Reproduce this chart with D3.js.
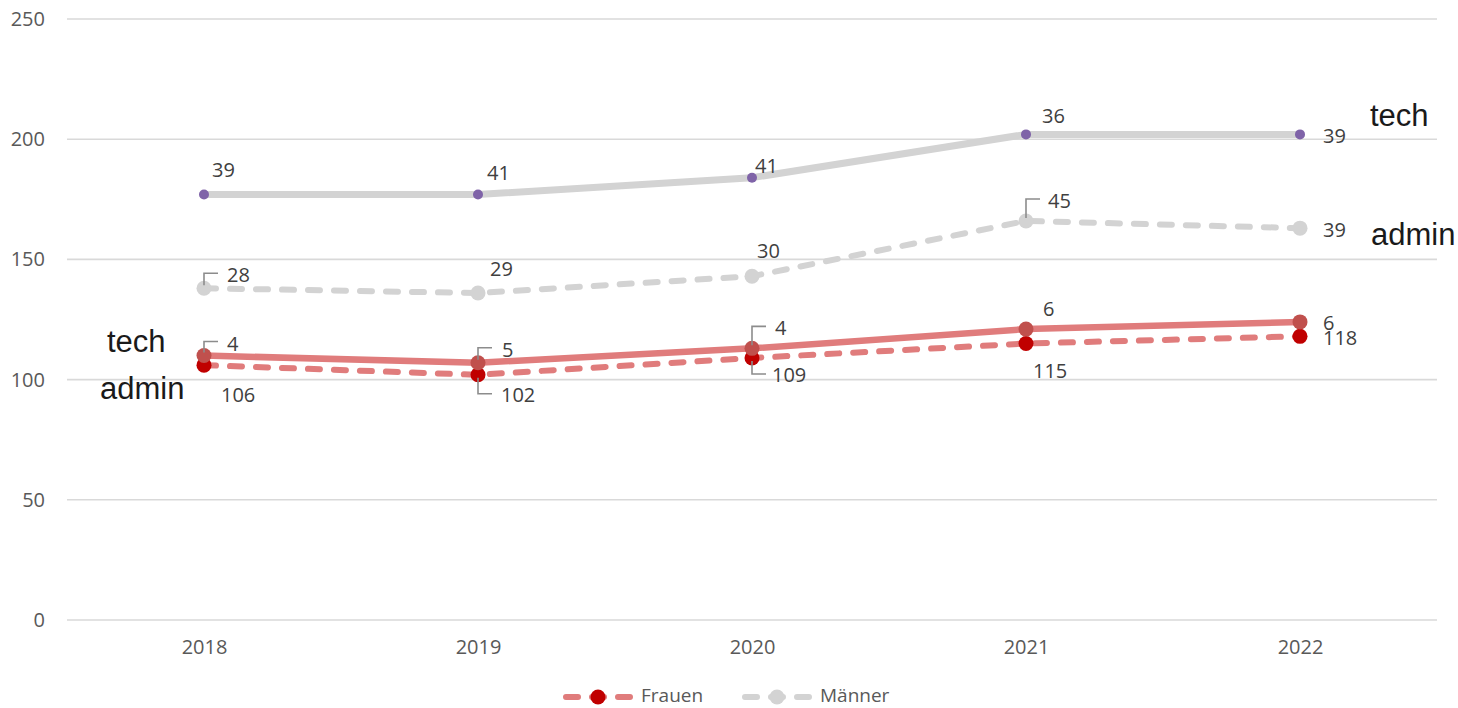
<!DOCTYPE html>
<html>
<head>
<meta charset="utf-8">
<script src="https://cdn.jsdelivr.net/npm/d3@7"></script>
<style>
  body { margin: 0; background: #fff; }
  text { font-family: "Open Sans", sans-serif; }
  text.note { font-family: "Liberation Sans", Arial, sans-serif; font-size: 31px; }
</style>
</head>
<body>
<div id="chart"></div>
<script>
// data
const years = ["2018", "2019", "2020", "2021", "2022"];
const maennerTech = [177, 177, 184, 202, 202];
const maennerAdmin = [138, 136, 143, 166, 163];
const frauenTech = [110, 107, 113, 121, 124];
const frauenAdmin = [106, 102, 109, 115, 118];
// data labels shown next to the points
const maennerTechLabels = ["39", "41", "41", "36", "39"];
const maennerAdminLabels = ["28", "29", "30", "45", "39"];
const frauenTechLabels = ["4", "5", "4", "6", "6"];
const frauenAdminLabels = ["106", "102", "109", "115", "118"];
const yTicks = [0, 50, 100, 150, 200, 250];

const width = 1458,
  height = 708;
const plot = { left: 67, right: 1437, top: 19, bottom: 620 };

const svg = d3
  .select("#chart")
  .append("svg")
  .attr("width", width)
  .attr("height", height);

const x = d3.scalePoint().domain(years).range([plot.left, plot.right]).padding(0.5);
const y = d3.scaleLinear().domain([0, 250]).range([plot.bottom, plot.top]);

// gridlines
svg
  .append("g")
  .selectAll("line")
  .data(yTicks)
  .join("line")
  .attr("x1", plot.left)
  .attr("x2", plot.right)
  .attr("y1", (d) => y(d))
  .attr("y2", (d) => y(d))
  .attr("stroke", "#d9d9d9")
  .attr("stroke-width", 1.6);

// y axis
const yAxis = svg
  .append("g")
  .attr("transform", `translate(${plot.left - 22},0)`)
  .call(d3.axisLeft(y).tickValues(yTicks).tickSize(0).tickPadding(0));
yAxis.select(".domain").remove();
yAxis
  .selectAll("text")
  .attr("fill", "#595959")
  .style("font-size", "20px")
  .style("font-family", "Open Sans, sans-serif");

// x axis
const xAxis = svg
  .append("g")
  .attr("transform", `translate(0,${plot.bottom + 20})`)
  .call(d3.axisBottom(x).tickSize(0).tickPadding(0));
xAxis.select(".domain").remove();
xAxis
  .selectAll("text")
  .attr("fill", "#595959")
  .attr("dy", "0.71em")
  .style("font-size", "20px")
  .style("font-family", "Open Sans, sans-serif");

const line = d3
  .line()
  .x((d, i) => x(years[i]))
  .y((d) => y(d));

const series = [
  {
    values: maennerAdmin, labels: maennerAdminLabels, color: "#d3d3d3", width: 6,
    dash: "12,14", marker: "#d3d3d3", r: 7.5,
    offs: [[23, -6, "up"], [12, -17], [5, -18], [22, -13, "up"], [23, 9]],
  },
  {
    values: maennerTech, labels: maennerTechLabels, color: "#d3d3d3", width: 7,
    dash: null, marker: "#7f63a8", r: 5,
    offs: [[8, -17], [9, -14], [3, -5], [16, -11], [23, 9]],
  },
  {
    values: frauenAdmin, labels: frauenAdminLabels, color: "#e07c7c", width: 6,
    dash: "12,14", marker: "#c00000", r: 7.5,
    offs: [[17, 37], [23, 27, "down"], [20, 24, "down"], [7, 34], [23, 9]],
  },
  {
    values: frauenTech, labels: frauenTechLabels, color: "#e07c7c", width: 6.5,
    dash: null, marker: "#c0504d", r: 7.5,
    offs: [[23, -5, "up"], [24, -6, "up"], [23, -13, "up"], [17, -13], [23, 8]],
  },
];

const lines = svg.append("g");
series.forEach((s) => {
  lines
    .append("path")
    .datum(s.values)
    .attr("d", line)
    .attr("fill", "none")
    .attr("stroke", s.color)
    .attr("stroke-width", s.width)
    .attr("stroke-linecap", "round")
    .attr("stroke-linejoin", "round")
    .attr("stroke-dasharray", s.dash);
});

const markers = svg.append("g");
series.forEach((s) => {
  markers
    .append("g")
    .selectAll("circle")
    .data(s.values)
    .join("circle")
    .attr("cx", (d, i) => x(years[i]))
    .attr("cy", (d) => y(d))
    .attr("r", s.r)
    .attr("fill", s.marker);
});

// data labels with leader lines
const labels = svg.append("g");
series.forEach((s) => {
  s.values.forEach((v, i) => {
    const px = x(years[i]),
      py = y(v);
    const [dx, dy, leader] = s.offs[i];
    if (leader) {
      const ly = leader === "up" ? py + dy - 9 : py + dy - 8;
      const y0 = leader === "up" ? py - 3 : py + 3;
      labels
        .append("polyline")
        .attr("points", `${px},${y0} ${px},${ly} ${px + 14},${ly}`)
        .attr("fill", "none")
        .attr("stroke", "#8c8c8c")
        .attr("stroke-width", 1.6);
    }
    labels
      .append("text")
      .attr("x", px + dx)
      .attr("y", py + dy)
      .attr("fill", "#404040")
      .style("font-size", "20px")
      .text(s.labels[i]);
  });
});

// series annotations
const notes = svg.append("g").attr("fill", "#1a1a1a");
const note = (tx, ty, t) =>
  notes.append("text").attr("class", "note").attr("x", tx).attr("y", ty).text(t);
note(107, y(frauenTech[0]) - 4, "tech");
note(100, y(frauenAdmin[0]) + 34, "admin");
note(1370, y(maennerTech[4]) - 8, "tech");
note(1371, y(maennerAdmin[4]) + 17, "admin");

// legend
const legendItems = [
  { name: "Frauen", color: "#e07c7c", marker: "#c00000", x0: 563 },
  { name: "Männer", color: "#d3d3d3", marker: "#d3d3d3", x0: 742 },
];
const legend = svg.append("g").attr("transform", "translate(0,697)");
legendItems.forEach((d) => {
  legend
    .append("line")
    .attr("x1", d.x0 + 3)
    .attr("x2", d.x0 + 67)
    .attr("stroke", d.color)
    .attr("stroke-width", 6)
    .attr("stroke-linecap", "round")
    .attr("stroke-dasharray", "12,14");
  legend
    .append("circle")
    .attr("cx", d.x0 + 35)
    .attr("r", 7.5)
    .attr("fill", d.marker);
  legend
    .append("text")
    .attr("x", d.x0 + 78)
    .attr("y", 5)
    .attr("fill", "#595959")
    .style("font-size", "19px")
    .text(d.name);
});
</script>
</body>
</html>
